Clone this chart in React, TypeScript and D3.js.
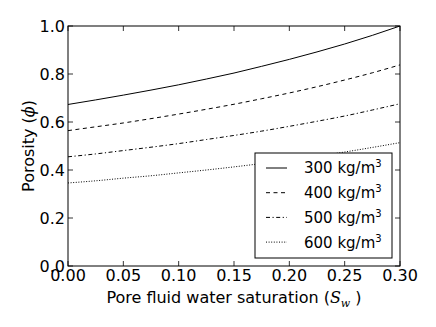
import React from "react";
import * as d3 from "d3";

const sw = [0, 0.025, 0.05, 0.075, 0.1, 0.125, 0.15, 0.175, 0.2, 0.225, 0.25, 0.275, 0.3];
const phi300 = [0.673, 0.692, 0.712, 0.733, 0.755, 0.779, 0.804, 0.832, 0.861, 0.892, 0.925, 0.961, 1.0];
const phi400 = [0.564, 0.58, 0.596, 0.614, 0.633, 0.653, 0.674, 0.697, 0.721, 0.747, 0.775, 0.805, 0.838];
const phi500 = [0.455, 0.467, 0.481, 0.495, 0.51, 0.527, 0.544, 0.562, 0.582, 0.603, 0.625, 0.65, 0.676];
const phi600 = [0.346, 0.355, 0.366, 0.376, 0.388, 0.4, 0.413, 0.427, 0.442, 0.458, 0.475, 0.494, 0.514];
const seriesLabels = ["300", "400", "500", "600"];
const xTicks = [0, 0.05, 0.1, 0.15, 0.2, 0.25, 0.3];
const yTicks = [0, 0.2, 0.4, 0.6, 0.8, 1.0];

const W = 436, H = 327;
const L = 68, R = 400, T = 26, B = 266;
const FONT = "DejaVu Sans, sans-serif";
const dashes = [null, "4,3.5", "4,2.5,1.2,2.5", "1,1.6"];

export default function App() {
  const x = d3.scaleLinear().domain([0, 0.3]).range([L, R]);
  const y = d3.scaleLinear().domain([0, 1]).range([B, T]);
  const line = d3.line<number>().x((_, i) => x(sw[i])).y((d) => y(d)).curve(d3.curveMonotoneX);
  const all = [phi300, phi400, phi500, phi600];
  const tl = 5;
  return (
    <svg width={W} height={H} style={{ position: "absolute", left: 0, top: 0, background: "#fff" }} fontFamily={FONT}>
      <defs>
        <clipPath id="pc"><rect x={L} y={T} width={R - L} height={B - T} /></clipPath>
      </defs>
      <rect x={0} y={0} width={W} height={H} fill="#fff" />
      <g clipPath="url(#pc)">
        {all.map((s, k) => (
          <path key={k} d={line(s) || ""} fill="none" stroke="#000" strokeWidth={1}
            strokeDasharray={dashes[k] || undefined} />
        ))}
      </g>
      {xTicks.map((t, i) => (
        <g key={"x" + i}>
          <line x1={x(t)} x2={x(t)} y1={B} y2={B - tl} stroke="#000" strokeWidth={0.8} />
          <line x1={x(t)} x2={x(t)} y1={T} y2={T + tl} stroke="#000" strokeWidth={0.8} />
          <text x={x(t)} y={281} fontSize={16} textAnchor="middle">{t.toFixed(2)}</text>
        </g>
      ))}
      {yTicks.map((t, i) => (
        <g key={"y" + i}>
          <line x1={L} x2={L + tl} y1={y(t)} y2={y(t)} stroke="#000" strokeWidth={0.8} />
          <line x1={R} x2={R - tl} y1={y(t)} y2={y(t)} stroke="#000" strokeWidth={0.8} />
          <text x={65} y={y(t)} dy="0.36em" fontSize={16} textAnchor="end">{t.toFixed(1)}</text>
        </g>
      ))}
      <rect x={L} y={T} width={R - L} height={B - T} fill="none" stroke="#000" strokeWidth={1} />
      <text x={(L + R) / 2} y={303} fontSize={16} textAnchor="middle">
        Pore fluid water saturation (<tspan fontStyle="italic" fontFamily="DejaVu Serif, serif">S</tspan>
        <tspan fontSize={11} dy={4} fontStyle="italic" fontFamily="DejaVu Serif, serif">w</tspan>
        <tspan dy={-4}> )</tspan>
      </text>
      <text transform={`translate(34,${(T + B) / 2}) rotate(-90)`} fontSize={16} textAnchor="middle">
        Porosity (<tspan fontStyle="italic" fontFamily="DejaVu Serif, serif">ϕ</tspan>)
      </text>
      <g>
        <rect x={255} y={153} width={137} height={105} fill="#fff" stroke="#000" strokeWidth={1} />
        {seriesLabels.map((lab, k) => {
          const yy = 168 + k * 24.7;
          return (
            <g key={"l" + k}>
              <line x1={266} x2={287} y1={yy} y2={yy} stroke="#000" strokeWidth={1}
                strokeDasharray={dashes[k] || undefined} />
              <text x={304} y={yy} dy="0.36em" fontSize={15}>
                {lab} kg/m<tspan fontSize={10} dy={-6}>3</tspan>
              </text>
            </g>
          );
        })}
      </g>
    </svg>
  );
}
